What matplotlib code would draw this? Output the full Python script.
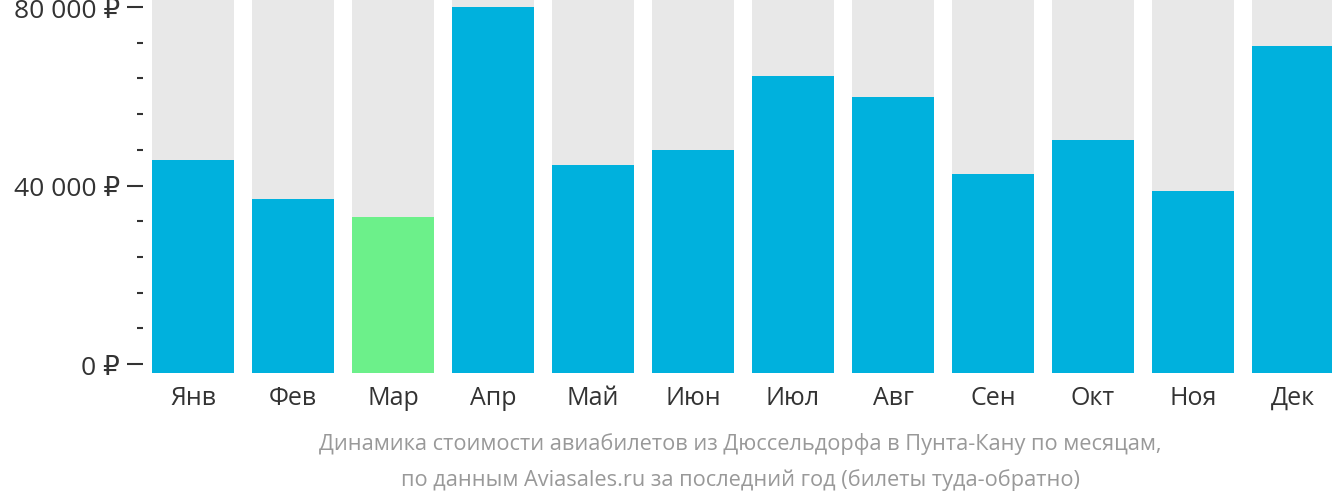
import matplotlib
matplotlib.use('Agg')
import matplotlib.pyplot as plt
from matplotlib.ticker import MultipleLocator, FuncFormatter

plt.rcParams['font.family'] = ['Open Sans', 'DejaVu Sans']

months = ['Янв', 'Фев', 'Мар', 'Апр', 'Май', 'Июн', 'Июл', 'Авг', 'Сен', 'Окт', 'Ноя', 'Дек']
prices = [45700, 37000, 32900, 80000, 44600, 48000, 64500, 59800, 42600, 50200, 38800, 71300]
cheapest = 'Мар'

y_min, y_max = -2000, 81800
blue = '#00b1dd'
green = '#6cf08a'
grey = '#e8e8e8'

fig = plt.figure(figsize=(13.32, 5.02), dpi=100)
ax = fig.add_axes([143 / 1332, 128 / 502, 1200 / 1332, 374 / 502])

x = range(len(months))
colors = [green if m == cheapest else blue for m in months]
ax.bar(x, [y_max - y_min] * len(months), bottom=y_min, width=0.82, color=grey)
ax.bar(x, [p - y_min for p in prices], bottom=y_min, width=0.82, color=colors)

ax.set_xlim(-0.5, 11.5)
ax.set_ylim(y_min, y_max)
for s in ax.spines.values():
    s.set_visible(False)

ax.yaxis.set_major_locator(MultipleLocator(40000))
ax.yaxis.set_minor_locator(MultipleLocator(8000))
ax.yaxis.set_major_formatter(FuncFormatter(lambda v, p: f'{int(v):,}'.replace(',', ' ') + ' ₽'))
ax.tick_params(axis='y', which='major', length=11.5, width=1.5, color='#333333',
               labelsize=19, labelcolor='#333333', pad=5)
ax.tick_params(axis='y', which='minor', length=4.5, width=1.5, color='#333333')

ax.set_xticks(list(x))
ax.set_xticklabels(months)
ax.tick_params(axis='x', length=0, labelsize=18, labelcolor='#333333', pad=22.3)
for lbl in ax.get_xticklabels():
    lbl.set_verticalalignment('baseline')

fig.text(0.556, 0.115, 'Динамика стоимости авиабилетов из Дюссельдорфа в Пунта-Кану по месяцам,',
         ha='center', va='center', fontsize=15.7, color='#999999')
fig.text(0.556, 0.043, 'по данным Aviasales.ru за последний год (билеты туда-обратно)',
         ha='center', va='center', fontsize=15.7, color='#999999')

fig.savefig('out.png', dpi=100)
